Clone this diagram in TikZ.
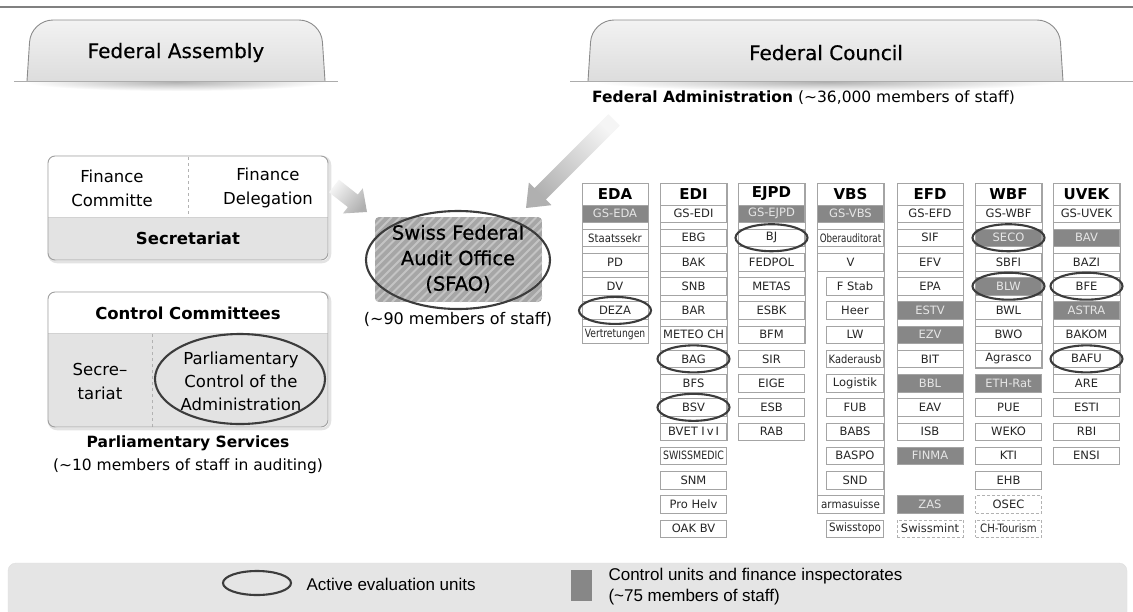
\documentclass[tikz,border=0pt]{standalone}
\usepackage{fontspec}
\setmainfont{DejaVu Sans}
\newfontfamily\legendfont{Liberation Sans}
\newfontfamily\heavyfont[FakeBold=0.45]{DejaVu Sans}
\usepackage{graphicx}
\usetikzlibrary{calc}

\definecolor{rulegray}{HTML}{808080}
\definecolor{framegray}{HTML}{A4A4A4}
\definecolor{darkunit}{HTML}{878787}
\definecolor{darkunittext}{HTML}{E6E6E6}
\definecolor{ringcol}{HTML}{3C3C3C}
\definecolor{tabedge}{HTML}{8C8C8C}
\definecolor{panelgray}{HTML}{E3E3E3}
\definecolor{legendgray}{HTML}{E5E5E5}
\definecolor{sfaofill}{HTML}{A6A6A6}
\definecolor{sfaostripe}{HTML}{C4C4C4}

% vertical centre of the i-th unit row in a department column
\newcommand\rowy[1]{213.5+24.23*#1}
% horizontally condensed label
\newcommand\hsqz[2]{\scalebox{#1}[1]{#2}}
% ring marking an active evaluation unit
\newcommand\ringaround[1]{\draw[ring] (#1.center) ellipse [x radius=36pt, y radius=13.5pt];}
% broad shaded arrow: tail, tip, shaft half width, head half width, head length, shading angle
\newcommand\fatarrow[6]{%
  \path ($(#2)!#5!(#1)$) coordinate (hb);
  \shade[top color=gray!62, bottom color=gray!8, shading angle=#6]
    ($(#1)!#3!90:(#2)$) -- ($(hb)!#3!90:(#2)$) -- ($(hb)!#4!90:(#2)$) -- (#2)
    -- ($(hb)!#4!-90:(#2)$) -- ($(hb)!#3!-90:(#2)$) -- ($(#1)!#3!-90:(#2)$) -- cycle;}

\tikzset{
  unitbox/.style={draw=framegray, fill=white, minimum width=66pt, minimum height=17.5pt,
    inner sep=0pt, font=\fontsize{11.5}{12}\selectfont, text=black!85},
  subunit/.style={unitbox, minimum width=57pt},
  ctrlunit/.style={unitbox, fill=darkunit, text=darkunittext},
  extunit/.style={unitbox, draw=framegray!85, dash pattern=on 3pt off 2pt},
  deptbox/.style={draw=framegray, fill=white, minimum width=66pt, minimum height=22pt,
    inner sep=0pt, font=\fontsize{15}{16}\selectfont\bfseries},
  deptframe/.style={draw=framegray},
  ring/.style={draw=ringcol, line width=2.1pt},
  tab/.style={draw=tabedge, line width=0.9pt, rounded corners=22pt, top color=gray!10, bottom color=gray!27},
  tabtitle/.style={font=\heavyfont\fontsize{20}{24}\selectfont, anchor=base},
  panel/.style={draw=gray!75, line width=0.9pt, rounded corners=7pt},
  paneltext/.style={align=center, font=\fontsize{16.5}{24}\selectfont},
  panelhead/.style={font=\fontsize{16.5}{20}\selectfont\bfseries},
  legendtext/.style={font=\legendfont\fontsize{17}{21}\selectfont, align=left},
}

\begin{document}
\begin{tikzpicture}[x=1pt,y=-1pt]
\useasboundingbox (0,0) rectangle (1133,611);
\clip (0,0) rectangle (1133,611);
\fill[white] (0,0) rectangle (1133,611);

% top rule
\draw[rulegray, line width=1.2pt] (0,7) -- (1133,7);

% soft shadows beneath the two tabs
\shade[inner color=black!30, outer color=white] (176,82) ellipse [x radius=150pt, y radius=9pt];
\shade[inner color=black!30, outer color=white] (826,82) ellipse [x radius=230pt, y radius=9pt];

% tabs
\shadedraw[tab] (27,81) -- (31,20) -- (321,20) -- (325,81);
\draw[gray!65, line width=0.8pt] (14,81) -- (338,81);
\node[tabtitle] (assembly) at (176,58) {Federal Assembly};

\shadedraw[tab] (588,81) -- (592,20) -- (1059,20) -- (1063,81);
\draw[gray!65, line width=0.8pt] (570,81) -- (1133,81);
\node[tabtitle] (council) at (826,60) {Federal Council};

\node[anchor=base west, inner sep=0pt, font=\fontsize{15.5}{18}\selectfont] (fedadmin) at (592,102)
  {\textbf{Federal Administration} (\textasciitilde 36,000 members of staff)};

% finance panel
\draw[gray!22, line width=2.5pt, rounded corners=8pt] (49,157) rectangle (330,262);
\begin{scope}
  \clip[rounded corners=7pt] (48,156) rectangle (328,260);
  \fill[white] (48,156) rectangle (328,217);
  \fill[panelgray] (48,217) rectangle (328,260);
\end{scope}
\draw[gray!35] (48,217) -- (328,217);
\draw[gray!60, dashed] (188,157) -- (188,217);
\draw[panel] (48,156) rectangle (328,260);
\node[paneltext] (fincom) at (112,188) {Finance\\Committe};
\node[paneltext] (findel) at (268,188) {Finance\\Delegation};
\node[panelhead] (finsec) at (188,238) {Secretariat};
\coordinate (finpanel) at (334,186);

% control committees panel
\draw[gray!22, line width=2.5pt, rounded corners=8pt] (49,293) rectangle (330,429);
\begin{scope}
  \clip[rounded corners=7pt] (48,292) rectangle (328,427);
  \fill[white] (48,292) rectangle (328,333);
  \fill[panelgray] (48,333) rectangle (328,427);
\end{scope}
\draw[gray!35] (48,333) -- (328,333);
\draw[gray!60, dashed] (152,334) -- (152,427);
\draw[panel] (48,292) rectangle (328,427);
\node[panelhead] (ctrlcom) at (188,313) {Control Committees};
\node[paneltext] (ctrlsec) at (100,381) {Secre–\\tariat};
\node[paneltext, font=\fontsize{16.5}{23}\selectfont] (pca) at (241,381) {Parliamentary\\Control of the\\Administration};
\draw[ring] (240,379) ellipse [x radius=85pt, y radius=45pt];
\node[font=\fontsize{15.5}{18}\selectfont\bfseries] (parlserv) at (188,443) {Parliamentary Services};
\node[font=\fontsize{15.5}{18}\selectfont] (parlstaff) at (188,466) {(\textasciitilde 10 members of staff in auditing)};

% Swiss Federal Audit Office
\begin{scope}
  \clip[rounded corners=4pt] (375,217) rectangle (542,302);
  \fill[sfaofill] (375,217) rectangle (542,302);
  \foreach \k in {0,...,33} \draw[sfaostripe, line width=2pt] ({290+8.5*\k},302) -- ({375+8.5*\k},217);
\end{scope}
\node[align=center, font=\heavyfont\fontsize{19.5}{25.5}\selectfont] (sfao) at (458,259) {Swiss Federal\\Audit Office\\(SFAO)};
\draw[ring] (458,260) ellipse [x radius=92pt, y radius=49pt];
\node[font=\fontsize{16}{18}\selectfont] (sfaostaff) at (458,319) {(\textasciitilde 90 members of staff)};

% supervision arrows towards the SFAO
\coordinate (sfaoleft) at (367,212);
\coordinate (adminfoot) at (614,120);
\coordinate (sfaoright) at (526,208);
\fatarrow{finpanel}{sfaoleft}{8pt}{16pt}{18pt}{-130}
\fatarrow{adminfoot}{sfaoright}{8pt}{16pt}{20pt}{135}

% ---------- department columns ----------
% EDA
\node[deptbox] (eda) at (615,194) {EDA};
\node[ctrlunit] (edaGS) at (615,{\rowy{0}}) {GS-EDA};
\node[unitbox] (edaSS) at (615,{\rowy{1}}) {\hsqz{0.88}{Staatssekr}};
\node[unitbox] (edaPD) at (615,{\rowy{2}}) {PD};
\node[unitbox] (edaDV) at (615,{\rowy{3}}) {DV};
\node[unitbox] (edaDEZA) at (615,{\rowy{4}}) {DEZA};
\node[unitbox] (edaVert) at (615,{\rowy{5}}) {\hsqz{0.8}{Vertretungen}};
\draw[deptframe] (eda.north west) rectangle (edaVert.south east);
\ringaround{edaDEZA}

% EDI
\node[deptbox] (edi) at (693.5,194) {EDI};
\node[unitbox] (ediGS) at (693.5,{\rowy{0}}) {GS-EDI};
\node[unitbox] (ediEBG) at (693.5,{\rowy{1}}) {EBG};
\node[unitbox] (ediBAK) at (693.5,{\rowy{2}}) {BAK};
\node[unitbox] (ediSNB) at (693.5,{\rowy{3}}) {SNB};
\node[unitbox] (ediBAR) at (693.5,{\rowy{4}}) {BAR};
\node[unitbox] (ediMET) at (693.5,{\rowy{5}}) {METEO CH};
\node[unitbox] (ediBAG) at (693.5,{\rowy{6}}) {BAG};
\node[unitbox] (ediBFS) at (693.5,{\rowy{7}}) {BFS};
\node[unitbox] (ediBSV) at (693.5,{\rowy{8}}) {BSV};
\node[unitbox] (ediBVET) at (693.5,{\rowy{9}}) {BVET I\,v\,I};
\draw[deptframe] (edi.north west) rectangle (ediBVET.south east);
\node[unitbox] (ediSM) at (693.5,{\rowy{10}}) {\hsqz{0.82}{SWISSMEDIC}};
\node[unitbox] (ediSNM) at (693.5,{\rowy{11}}) {SNM};
\node[unitbox] (ediPH) at (693.5,{\rowy{12}}) {Pro Helv};
\node[unitbox] (ediOAK) at (693.5,{\rowy{13}}) {OAK BV};
\ringaround{ediBAG}
\ringaround{ediBSV}

% EJPD
\node[deptbox] (ejpd) at (771.5,194) {EJPD};
\node[ctrlunit] (ejpdGS) at (771.5,{\rowy{0}}) {GS-EJPD};
\node[unitbox] (ejpdBJ) at (771.5,{\rowy{1}}) {BJ};
\node[unitbox] (ejpdFED) at (771.5,{\rowy{2}}) {FEDPOL};
\node[unitbox] (ejpdMET) at (771.5,{\rowy{3}}) {METAS};
\node[unitbox] (ejpdESBK) at (771.5,{\rowy{4}}) {ESBK};
\node[unitbox] (ejpdBFM) at (771.5,{\rowy{5}}) {BFM};
\draw[deptframe] (ejpd.north west) rectangle (ejpdBFM.south east);
\node[unitbox] (ejpdSIR) at (771.5,{\rowy{6}}) {SIR};
\node[unitbox] (ejpdEIGE) at (771.5,{\rowy{7}}) {EIGE};
\node[unitbox] (ejpdESB) at (771.5,{\rowy{8}}) {ESB};
\node[unitbox] (ejpdRAB) at (771.5,{\rowy{9}}) {RAB};
\ringaround{ejpdBJ}

% VBS
\node[deptbox] (vbs) at (850.5,194) {VBS};
\node[ctrlunit] (vbsGS) at (850.5,{\rowy{0}}) {GS-VBS};
\node[unitbox] (vbsOA) at (850.5,{\rowy{1}}) {\hsqz{0.76}{Oberauditorat}};
\node[unitbox] (vbsV) at (850.5,{\rowy{2}}) {V};
\node[subunit] (vbsFS) at (855,{\rowy{3}}) {F Stab};
\node[subunit] (vbsHeer) at (855,{\rowy{4}}) {Heer};
\node[subunit] (vbsLW) at (855,{\rowy{5}}) {LW};
\node[subunit] (vbsKad) at (855,{\rowy{6}}) {\hsqz{0.86}{Kaderausb}};
\node[subunit] (vbsLog) at (855,{\rowy{7}}) {Logistik};
\node[subunit] (vbsFUB) at (855,{\rowy{8}}) {FUB};
\node[subunit] (vbsBABS) at (855,{\rowy{9}}) {BABS};
\node[subunit] (vbsBASPO) at (855,{\rowy{10}}) {BASPO};
\node[subunit] (vbsSND) at (855,{\rowy{11}}) {SND};
\node[unitbox] (vbsArm) at (850.5,{\rowy{12}}) {\hsqz{0.9}{armasuisse}};
\draw[deptframe] (vbs.north west) rectangle (vbsArm.south east);
\node[subunit] (vbsTopo) at (855,{\rowy{13}}) {\hsqz{0.9}{Swisstopo}};

% EFD
\node[deptbox] (efd) at (930,194) {EFD};
\node[unitbox] (efdGS) at (930,{\rowy{0}}) {GS-EFD};
\node[unitbox] (efdSIF) at (930,{\rowy{1}}) {SIF};
\node[unitbox] (efdEFV) at (930,{\rowy{2}}) {EFV};
\node[unitbox] (efdEPA) at (930,{\rowy{3}}) {EPA};
\node[ctrlunit] (efdESTV) at (930,{\rowy{4}}) {ESTV};
\node[ctrlunit] (efdEZV) at (930,{\rowy{5}}) {EZV};
\node[unitbox] (efdBIT) at (930,{\rowy{6}}) {BIT};
\node[ctrlunit] (efdBBL) at (930,{\rowy{7}}) {BBL};
\node[unitbox] (efdEAV) at (930,{\rowy{8}}) {EAV};
\node[unitbox] (efdISB) at (930,{\rowy{9}}) {ISB};
\draw[deptframe] (efd.north west) rectangle (efdISB.south east);
\node[ctrlunit] (efdFINMA) at (930,{\rowy{10}}) {FINMA};
\node[ctrlunit] (efdZAS) at (930,{\rowy{12}}) {ZAS};
\node[extunit] (efdMint) at (930,{\rowy{13}}) {Swissmint};

% WBF
\node[deptbox] (wbf) at (1008.5,194) {WBF};
\node[unitbox] (wbfGS) at (1008.5,{\rowy{0}}) {GS-WBF};
\node[ctrlunit] (wbfSECO) at (1008.5,{\rowy{1}}) {SECO};
\node[unitbox] (wbfSBFI) at (1008.5,{\rowy{2}}) {SBFI};
\node[ctrlunit] (wbfBLW) at (1008.5,{\rowy{3}}) {BLW};
\node[unitbox] (wbfBWL) at (1008.5,{\rowy{4}}) {BWL};
\node[unitbox] (wbfBWO) at (1008.5,{\rowy{5}}) {BWO};
\node[unitbox] (wbfAgr) at (1008.5,{\rowy{6}}) {Agrasco};
\draw[deptframe] (wbf.north west) rectangle (wbfAgr.south east);
\node[ctrlunit] (wbfETH) at (1008.5,{\rowy{7}}) {ETH-Rat};
\node[unitbox] (wbfPUE) at (1008.5,{\rowy{8}}) {PUE};
\node[unitbox] (wbfWEKO) at (1008.5,{\rowy{9}}) {WEKO};
\node[unitbox] (wbfKTI) at (1008.5,{\rowy{10}}) {KTI};
\node[unitbox] (wbfEHB) at (1008.5,{\rowy{11}}) {EHB};
\node[extunit] (wbfOSEC) at (1008.5,{\rowy{12}}) {OSEC};
\node[extunit] (wbfCHT) at (1008.5,{\rowy{13}}) {\hsqz{0.88}{CH-Tourism}};
\ringaround{wbfSECO}
\ringaround{wbfBLW}

% UVEK
\node[deptbox] (uvek) at (1086.5,194) {UVEK};
\node[unitbox] (uvekGS) at (1086.5,{\rowy{0}}) {GS-UVEK};
\node[ctrlunit] (uvekBAV) at (1086.5,{\rowy{1}}) {BAV};
\node[unitbox] (uvekBAZI) at (1086.5,{\rowy{2}}) {BAZI};
\node[unitbox] (uvekBFE) at (1086.5,{\rowy{3}}) {BFE};
\node[ctrlunit] (uvekASTRA) at (1086.5,{\rowy{4}}) {ASTRA};
\node[unitbox] (uvekBAKOM) at (1086.5,{\rowy{5}}) {BAKOM};
\node[unitbox] (uvekBAFU) at (1086.5,{\rowy{6}}) {BAFU};
\node[unitbox] (uvekARE) at (1086.5,{\rowy{7}}) {ARE};
\draw[deptframe] (uvek.north west) rectangle (uvekARE.south east);
\node[unitbox] (uvekESTI) at (1086.5,{\rowy{8}}) {ESTI};
\node[unitbox] (uvekRBI) at (1086.5,{\rowy{9}}) {RBI};
\node[unitbox] (uvekENSI) at (1086.5,{\rowy{10}}) {ENSI};
\ringaround{uvekBFE}
\ringaround{uvekBAFU}

% ---------- legend ----------
\fill[legendgray, draw=gray!25, rounded corners=8pt] (8,563) rectangle (1127,640);
\draw[ring] (257,583) ellipse [x radius=34pt, y radius=12pt];
\node[legendtext, anchor=west] (legring) at (303,584) {Active evaluation units};
\fill[darkunit] (571,570) rectangle (592,601);
\node[legendtext, anchor=west] (legctrl) at (605,587) {Control units and finance inspectorates\\(\textasciitilde 75 members of staff)};
\end{tikzpicture}
\end{document}
